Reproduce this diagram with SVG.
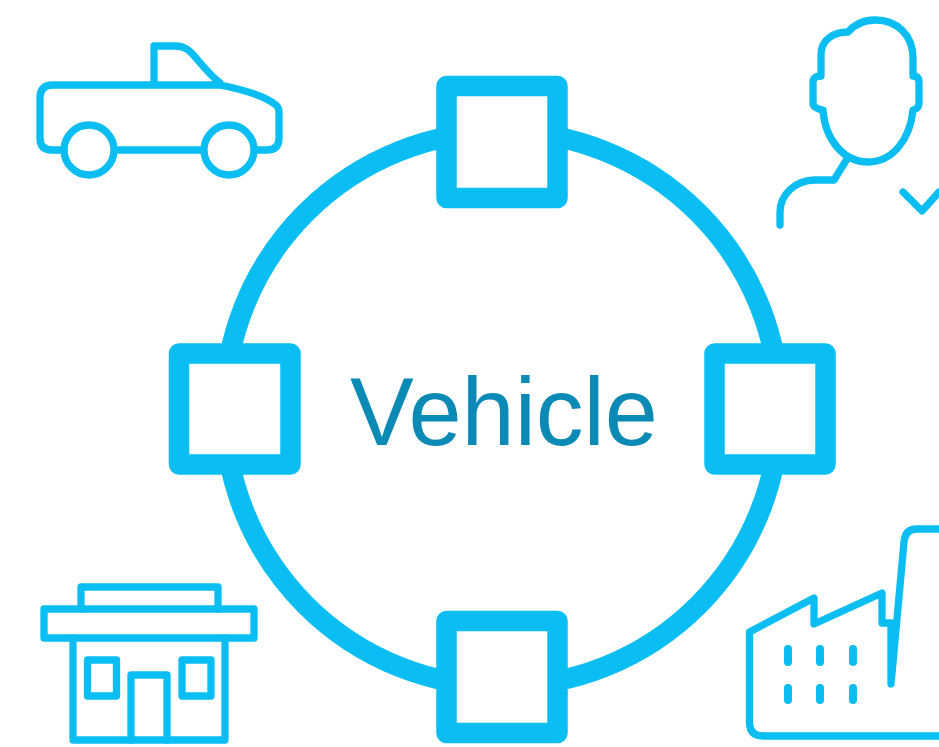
<svg xmlns="http://www.w3.org/2000/svg" width="939" height="747" viewBox="0 0 939 747">
<style>
.ic{fill:none;stroke:#0abdf2;stroke-width:7.300;stroke-linejoin:round;stroke-linecap:round}
.port{fill:#fff;stroke:#0abdf2;stroke-width:20.5;stroke-linejoin:round}
.w{fill:none;stroke:#0abdf2;stroke-width:8;stroke-linecap:round}
.lbl{font-family:"Liberation Sans",Arial,sans-serif;font-size:95.500px;fill:#0a8ab4}
</style>
<rect width="939" height="747" fill="#fff"/>
<g id="connectors"><circle cx="502" cy="409" r="277.500" fill="none" stroke="#0abdf2" stroke-width="20.500"/></g>
<g id="port-top"><rect class="port" x="446.500" y="86" width="111" height="112"/></g>
<g id="port-left"><rect class="port" x="179" y="353.500" width="111.500" height="111"/></g>
<g id="port-right"><rect class="port" x="714.500" y="353.500" width="111" height="111"/></g>
<g id="port-bottom"><rect class="port" x="446.500" y="621" width="111" height="112"/></g>
<g id="vehicle-label"><text class="lbl" x="350" y="445">Vehicle</text></g>
<g id="truck">
<path class="ic" d="M64 150H52Q40 150 40 138V98Q40 85 53 85H220C245 90 265 96 276 105Q279 108 279 112V138Q279 150 267 150H256M117 150H201M154 85V46H175C186 46 191 52 196 58C206 70 211 76 220 83"/>
<circle class="ic" cx="89" cy="150" r="25"/><circle class="ic" cx="229" cy="150" r="25"/>
</g>
<g id="person">
<path class="ic" d="M821 76V55C821 40 833 32 848 32C855 24 864 20 875 20C897 20 913 35 913 58V76C917 76 919 78 919 82V103C919 107 917 109 913 110C910 140 892 162 868 162C844 162 825 140 823 110C817 109 813 107 813 103V82C813 78 816 76 821 76Z"/>
<path class="ic" d="M847 159L834 180H815C795 180 780 195 780 212V225M903 192L922 211L939 192"/>
</g>
<g id="shop">
<path class="ic" d="M81 609V587H218V609"/>
<rect class="ic" x="44" y="609" width="210" height="29"/>
<path class="ic" d="M73 638V740H225V638"/>
<rect class="ic" x="87.500" y="660" width="29" height="36"/>
<rect class="ic" x="182" y="660" width="29" height="36"/>
<path class="ic" d="M131 740V675H167V740"/>
</g>
<g id="factory">
<path class="ic" d="M942 736H763Q749.500 736 749.500 722V632L814 598V624L882 593V623H891V684L904 542Q905 529 917 529H942"/>
<path class="w" d="M788 649V662M820 649V662M853 649V662M788 688V700M820 688V700M853 688V700"/>
</g>
</svg>
